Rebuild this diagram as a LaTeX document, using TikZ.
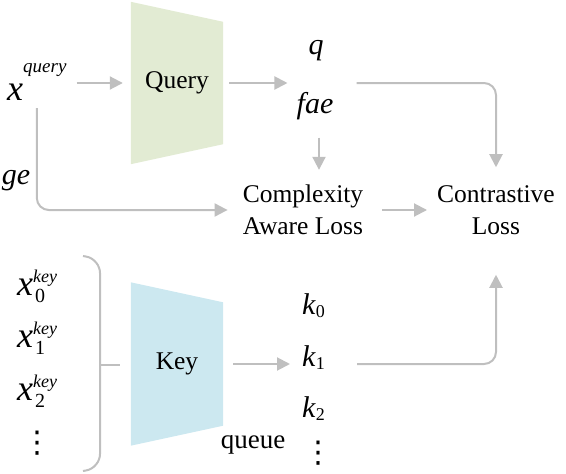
\documentclass[tikz,border=0pt]{standalone}
\usepackage{fontspec}
\setmainfont{Liberation Serif}
\newfontfamily\symfont{DejaVu Sans}
\usetikzlibrary{arrows.meta,backgrounds}
\definecolor{linegray}{HTML}{BFBFBF}
\definecolor{qgreen}{HTML}{E2EBD3}
\definecolor{kblue}{HTML}{CCE8F0}
\newcommand{\fs}[1]{\fontsize{#1}{#1}\selectfont}
\newcommand{\xkey}[1]{\textit{\fs{36}x}\rlap{\hspace{2pt}\raisebox{-7pt}{\fs{20}#1}}\raisebox{13pt}{\fs{18}\textit{key}}}
\newcommand{\kvec}[1]{\textit{\fs{30}k}\raisebox{-3pt}{\fs{18}#1}}
\newcommand{\vdts}{{\symfont\fs{30}⋮}}

\begin{document}
\begin{tikzpicture}[x=1pt,y=-1pt,
  arr/.style={draw=linegray,line width=2pt,-{Triangle[length=13pt,width=13pt]}},
  lbl/.style={inner sep=0pt,align=center,font=\fontsize{25.5}{32}\selectfont},
  sym/.style={inner sep=0pt,anchor=base}]
\useasboundingbox (0,0) rectangle (566,474);
% 编码器
\node[lbl,minimum width=92pt,minimum height=162pt] (qenc) at (177,83) {Query};
\node[lbl,minimum width=92pt,minimum height=163pt] (kenc) at (177,364) {Key};
\begin{scope}[on background layer]
\fill[qgreen] (qenc.north west) -- ([yshift=-20pt]qenc.north east)
  -- ([yshift=20pt]qenc.south east) -- (qenc.south west) -- cycle;
\fill[kblue] (kenc.north west) -- ([yshift=-20pt]kenc.north east)
  -- ([yshift=20pt]kenc.south east) -- (kenc.south west) -- cycle;
\end{scope}
% 符号
\node[sym,anchor=base west] (xq) at (7,100) {\textit{\fs{36}x}\raisebox{28pt}{\fs{19}\textit{query}}};
\node[sym] (ge) at (16,184) {\fs{30}\textit{ge}};
\node[sym] (q) at (316,54) {\fs{30}\textit{q}};
\node[sym] (fae) at (315,113) {\fs{30}\textit{fae}};
\node[sym,anchor=base west] (x0) at (17,295) {\xkey{0}};
\node[sym,anchor=base west] (x1) at (17,347) {\xkey{1}};
\node[sym,anchor=base west] (x2) at (17,400) {\xkey{2}};
\node[inner sep=0pt] (xdots) at (38,443) {\vdts};
\node[sym,anchor=base west] (k0) at (302,314) {\kvec{0}};
\node[sym,anchor=base west] (k1) at (302,366) {\kvec{1}};
\node[sym,anchor=base west] (k2) at (302,417) {\kvec{2}};
\node[inner sep=0pt] (kdots) at (318,453) {\vdts};
\node[sym] (queue) at (253,448) {\fs{27}queue};
% 损失
\node[lbl] (cal) at (303,210) {Complexity\\Aware Loss};
\node[lbl] (cl) at (496,210) {Contrastive\\Loss};
% 箭头
\draw[arr,shorten <=10pt,shorten >=8pt] (xq.east |- qenc.west) -- (qenc.west);
\draw[arr,shorten <=6pt,shorten >=9pt] (qenc.east) -- (qenc.east -| fae.west);
\draw[arr,rounded corners=12pt,shorten <=23pt,shorten >=18pt] (fae.east |- qenc.east) -| (cl.north);
\draw[arr,shorten <=18pt,shorten >=15pt] ([xshift=4pt]fae.south) -- ([xshift=4pt]fae.south |- cal.north);
\draw[arr,shorten <=19pt,shorten >=10pt] (cal.east) -- (cl.west);
\draw[arr,rounded corners=12pt,shorten <=8pt,shorten >=15pt] (xq.south) |- (cal.west);
\draw[arr,shorten <=10pt,shorten >=12pt] (kenc.east) -- (kenc.east -| k1.west);
\draw[arr,rounded corners=12pt,shorten <=32pt,shorten >=40pt] (k1.east |- kenc.east) -| (cl.south);
% 括号
\coordinate (brk) at (100,365);
\draw[linegray,line width=2pt,rounded corners=14pt] (83,256) -- (100,259) -- (100,468) -- (83,471);
\draw[linegray,line width=2pt] (brk) -- ++(20,0);
\end{tikzpicture}
\end{document}
